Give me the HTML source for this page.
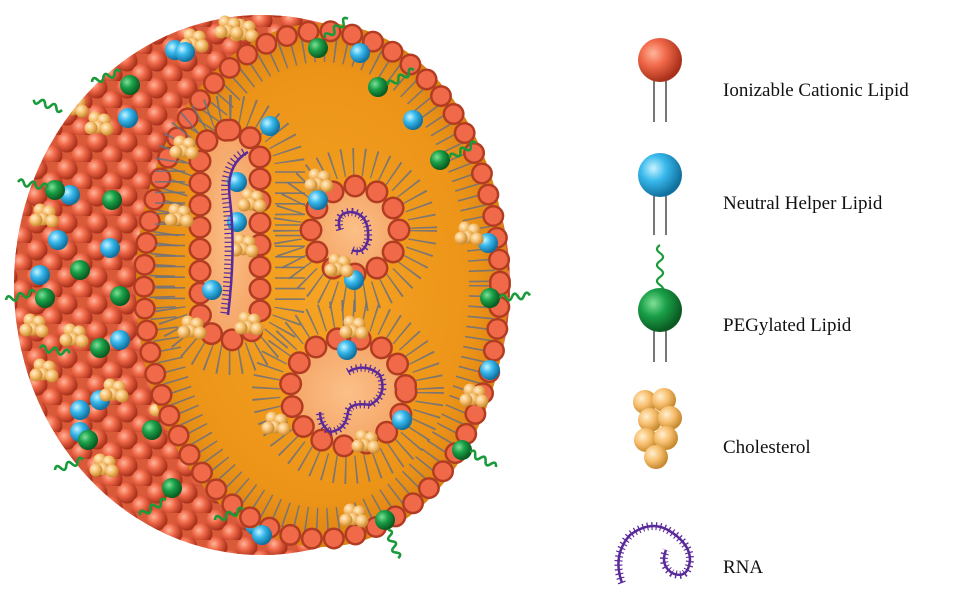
<!DOCTYPE html>
<html><head><meta charset="utf-8"><style>
html,body{margin:0;padding:0;background:#fff;width:955px;height:607px;overflow:hidden}
</style></head><body>
<svg width="955" height="607" viewBox="0 0 955 607" xmlns="http://www.w3.org/2000/svg">
<defs>
<radialGradient id="rd" cx="35%" cy="35%" r="65%"><stop offset="0" stop-color="#ffb49a"/><stop offset="0.45" stop-color="#f06848"/><stop offset="1" stop-color="#a8301a"/></radialGradient>
<radialGradient id="bl" cx="35%" cy="35%" r="65%"><stop offset="0" stop-color="#c8f4ff"/><stop offset="0.45" stop-color="#38b8ec"/><stop offset="1" stop-color="#10709e"/></radialGradient>
<radialGradient id="gr" cx="35%" cy="35%" r="65%"><stop offset="0" stop-color="#80e098"/><stop offset="0.45" stop-color="#1aa048"/><stop offset="1" stop-color="#0a5a22"/></radialGradient>
<radialGradient id="ch" cx="35%" cy="35%" r="65%"><stop offset="0" stop-color="#fff0d0"/><stop offset="0.5" stop-color="#f8c070"/><stop offset="1" stop-color="#c88a30"/></radialGradient>
<radialGradient id="core" cx="50%" cy="50%" r="55%"><stop offset="0" stop-color="#f6a424"/><stop offset="0.75" stop-color="#ec9418"/><stop offset="1" stop-color="#d07810"/></radialGradient>
<radialGradient id="ves" cx="50%" cy="50%" r="60%"><stop offset="0" stop-color="#fbc088"/><stop offset="1" stop-color="#f4a060"/></radialGradient>
<pattern id="surf" width="30" height="27" patternUnits="userSpaceOnUse">
<circle cx="7" cy="7" r="10.5" fill="url(#rd)"/><circle cx="22" cy="20.5" r="10.5" fill="url(#rd)"/><circle cx="37" cy="7" r="10.5" fill="url(#rd)"/><circle cx="7" cy="34" r="10.5" fill="url(#rd)"/><circle cx="-8" cy="20.5" r="10.5" fill="url(#rd)"/>
</pattern>
<g id="chol"><circle cx="0" cy="0" r="6.5" fill="url(#ch)"/><circle cx="9" cy="2" r="6.5" fill="url(#ch)"/><circle cx="3" cy="9" r="6.5" fill="url(#ch)"/><circle cx="12" cy="11" r="6.5" fill="url(#ch)"/><circle cx="-4" cy="10" r="6.5" fill="url(#ch)"/></g>
<path id="peg" d="M0 0 q3 -6 6 0 t6 0 t6 0 t6 0 t6 0" fill="none" stroke="#1a9a3a" stroke-width="2.6"/>
<clipPath id="outer"><ellipse cx="262" cy="285" rx="248" ry="270"/></clipPath>
</defs>

<ellipse cx="262" cy="285" rx="248" ry="270" fill="#d85a38"/>
<ellipse cx="262" cy="285" rx="248" ry="270" fill="url(#surf)"/>
<g clip-path="url(#outer)">
<g fill="url(#bl)"><circle cx="58" cy="240" r="10"/><circle cx="40" cy="275" r="10"/><circle cx="80" cy="410" r="10"/><circle cx="100" cy="400" r="10"/><circle cx="175" cy="50" r="10"/><circle cx="128" cy="118" r="10"/><circle cx="70" cy="195" r="10"/><circle cx="110" cy="248" r="10"/><circle cx="210" cy="460" r="10"/><circle cx="80" cy="432" r="10"/><circle cx="255" cy="525" r="10"/><circle cx="285" cy="530" r="10"/><circle cx="120" cy="340" r="10"/></g>
<g fill="url(#gr)"><circle cx="55" cy="190" r="10"/><circle cx="112" cy="200" r="10"/><circle cx="120" cy="296" r="10"/><circle cx="45" cy="298" r="10"/><circle cx="80" cy="270" r="10"/><circle cx="100" cy="348" r="10"/><circle cx="152" cy="430" r="10"/><circle cx="172" cy="488" r="10"/><circle cx="245" cy="498" r="10"/><circle cx="88" cy="440" r="10"/><circle cx="130" cy="85" r="10"/></g>
<use href="#chol" x="40" y="210"/><use href="#chol" x="30" y="320"/><use href="#chol" x="70" y="330"/><use href="#chol" x="95" y="118"/><use href="#chol" x="110" y="385"/><use href="#chol" x="70" y="100"/><use href="#chol" x="160" y="400"/><use href="#chol" x="190" y="35"/><use href="#chol" x="240" y="25"/><use href="#chol" x="40" y="365"/><use href="#chol" x="100" y="460"/>
</g>

<ellipse cx="322" cy="285" rx="186" ry="262" fill="url(#core)"/>
<ellipse cx="322" cy="285" rx="160" ry="236" fill="none" stroke="#6a7080" stroke-width="26" stroke-dasharray="1.6 9" opacity="0.85"/>
<ellipse cx="322" cy="285" rx="178" ry="254" fill="none" stroke="#b23c22" stroke-width="22" stroke-dasharray="0 22" stroke-linecap="round"/>
<ellipse cx="322" cy="285" rx="178" ry="254" fill="none" stroke="#f06a4a" stroke-width="17" stroke-dasharray="0 22" stroke-linecap="round"/>
<g fill="url(#bl)"><circle cx="360" cy="53" r="10"/><circle cx="413" cy="120" r="10"/><circle cx="488" cy="243" r="10"/><circle cx="490" cy="370" r="10"/><circle cx="262" cy="535" r="10"/><circle cx="185" cy="52" r="10"/></g>
<g fill="url(#gr)"><circle cx="318" cy="48" r="10"/><circle cx="378" cy="87" r="10"/><circle cx="440" cy="160" r="10"/><circle cx="490" cy="298" r="10"/><circle cx="462" cy="450" r="10"/><circle cx="385" cy="520" r="10"/></g>
<use href="#chol" x="465" y="228"/><use href="#chol" x="470" y="390"/><use href="#chol" x="350" y="510"/><use href="#chol" x="225" y="22"/>

<rect x="170" y="110" width="120" height="250" rx="60" fill="none" stroke="#6a7080" stroke-width="30" stroke-dasharray="1.6 9" opacity="0.85"/>
<rect x="200" y="130" width="60" height="210" rx="30" fill="url(#ves)"/>
<rect x="200" y="130" width="60" height="210" rx="30" fill="none" stroke="#b23c22" stroke-width="23" stroke-dasharray="0 22" stroke-linecap="round"/>
<rect x="200" y="130" width="60" height="210" rx="30" fill="none" stroke="#f06a4a" stroke-width="18" stroke-dasharray="0 22" stroke-linecap="round"/>
<circle cx="270" cy="126" r="10" fill="url(#bl)"/><circle cx="237" cy="182" r="10" fill="url(#bl)"/><circle cx="237" cy="222" r="10" fill="url(#bl)"/><circle cx="212" cy="290" r="10" fill="url(#bl)"/>
<use href="#chol" x="180" y="142"/><use href="#chol" x="248" y="195"/><use href="#chol" x="240" y="240"/><use href="#chol" x="175" y="210"/><use href="#chol" x="188" y="322"/><use href="#chol" x="245" y="318"/>
<path d="M248 152 Q225 165 230 200 Q236 250 228 315" fill="none" stroke="#5a2a9a" stroke-width="2.5"/>
<path d="M248 152 Q225 165 230 200 Q236 250 228 315" fill="none" stroke="#5a2a9a" stroke-width="8" stroke-dasharray="1.2 3.2" transform="translate(-4,0)"/>

<circle cx="355" cy="230" r="68" fill="none" stroke="#6a7080" stroke-width="28" stroke-dasharray="1.6 9" opacity="0.85"/>
<circle cx="355" cy="230" r="44" fill="url(#ves)"/>
<circle cx="355" cy="230" r="44" fill="none" stroke="#b23c22" stroke-width="23" stroke-dasharray="0 23" stroke-linecap="round"/>
<circle cx="355" cy="230" r="44" fill="none" stroke="#f06a4a" stroke-width="18" stroke-dasharray="0 23" stroke-linecap="round"/>
<circle cx="318" cy="200" r="10" fill="url(#bl)"/><circle cx="354" cy="280" r="10" fill="url(#bl)"/>
<use href="#chol" x="315" y="175"/><use href="#chol" x="335" y="260"/>
<path d="M340 230 Q335 212 352 212 Q370 215 368 240 Q364 255 352 250" fill="none" stroke="#5a2a9a" stroke-width="2.5"/>
<path d="M340 230 Q335 212 352 212 Q370 215 368 240 Q364 255 352 250" fill="none" stroke="#5a2a9a" stroke-width="8" stroke-dasharray="1.2 3.2"/>

<ellipse cx="348" cy="392" rx="82" ry="78" fill="none" stroke="#6a7080" stroke-width="28" stroke-dasharray="1.6 9" opacity="0.85"/>
<ellipse cx="348" cy="392" rx="58" ry="54" fill="url(#ves)"/>
<ellipse cx="348" cy="392" rx="58" ry="54" fill="none" stroke="#b23c22" stroke-width="23" stroke-dasharray="0 23" stroke-linecap="round"/>
<ellipse cx="348" cy="392" rx="58" ry="54" fill="none" stroke="#f06a4a" stroke-width="18" stroke-dasharray="0 23" stroke-linecap="round"/>
<circle cx="347" cy="350" r="10" fill="url(#bl)"/><circle cx="402" cy="420" r="10" fill="url(#bl)"/>
<use href="#chol" x="350" y="322"/><use href="#chol" x="272" y="418"/><use href="#chol" x="362" y="436"/>
<path d="M348 372 Q365 362 380 375 Q388 395 370 405 Q350 402 348 412 Q346 430 330 432 Q320 425 320 412" fill="none" stroke="#5a2a9a" stroke-width="2.5"/>
<path d="M348 372 Q365 362 380 375 Q388 395 370 405 Q350 402 348 412 Q346 430 330 432 Q320 425 320 412" fill="none" stroke="#5a2a9a" stroke-width="8" stroke-dasharray="1.2 3.2"/>

<use href="#peg" transform="translate(92,82) rotate(-20)"/>
<use href="#peg" transform="translate(62,110) rotate(-160)"/>
<use href="#peg" transform="translate(18,182) rotate(10)"/>
<use href="#peg" transform="translate(6,300) rotate(-15)"/>
<use href="#peg" transform="translate(40,348) rotate(10)"/>
<use href="#peg" transform="translate(55,470) rotate(-20)"/>
<use href="#peg" transform="translate(140,515) rotate(-30)"/>
<use href="#peg" transform="translate(215,520) rotate(-20)"/>
<use href="#peg" transform="translate(388,530) rotate(70)"/>
<use href="#peg" transform="translate(500,298) rotate(-5)"/>
<use href="#peg" transform="translate(470,452) rotate(30)"/>
<use href="#peg" transform="translate(450,158) rotate(-30)"/>
<use href="#peg" transform="translate(388,85) rotate(-30)"/>
<use href="#peg" transform="translate(325,38) rotate(-40)"/>

<g stroke="#777" stroke-width="2"><line x1="654" y1="75" x2="654" y2="122"/><line x1="666" y1="75" x2="666" y2="122"/>
<line x1="654" y1="190" x2="654" y2="235"/><line x1="666" y1="190" x2="666" y2="235"/>
<line x1="654" y1="325" x2="654" y2="362"/><line x1="666" y1="325" x2="666" y2="362"/></g>
<circle cx="660" cy="60" r="22" fill="url(#rd)"/>
<circle cx="660" cy="175" r="22" fill="url(#bl)"/>
<path d="M660 245 q-6 4 0 8 t0 8 t0 8 t0 8 t0 8 t0 8" fill="none" stroke="#1a9a3a" stroke-width="2.2"/>
<circle cx="660" cy="310" r="22" fill="url(#gr)"/>
<g fill="url(#ch)"><circle cx="645" cy="402" r="12"/><circle cx="664" cy="400" r="12"/><circle cx="650" cy="420" r="12"/><circle cx="670" cy="418" r="12"/><circle cx="646" cy="440" r="12"/><circle cx="666" cy="438" r="12"/><circle cx="656" cy="457" r="12"/></g>
<path d="M622 583 Q612 555 630 535 Q650 520 668 530 Q690 543 690 560 Q688 580 672 573 Q660 565 666 550" fill="none" stroke="#5a2a9a" stroke-width="2.5"/>
<path d="M622 583 Q612 555 630 535 Q650 520 668 530 Q690 543 690 560 Q688 580 672 573 Q660 565 666 550" fill="none" stroke="#5a2a9a" stroke-width="8" stroke-dasharray="1.2 3.2"/>
<g font-family="Liberation Serif, serif" font-size="19" fill="#111">
<text x="723" y="96">Ionizable Cationic Lipid</text>
<text x="723" y="209">Neutral Helper Lipid</text>
<text x="723" y="331">PEGylated Lipid</text>
<text x="723" y="453">Cholesterol</text>
<text x="723" y="573">RNA</text>
</g>
</svg>
</body></html>
